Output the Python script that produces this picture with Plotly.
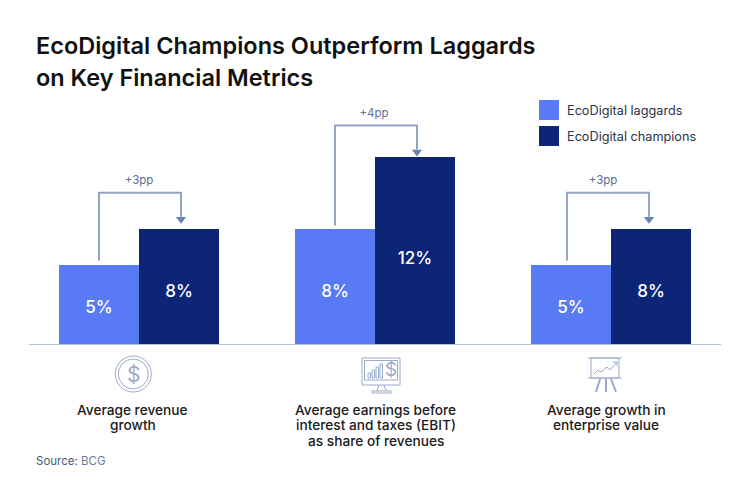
import plotly.graph_objects as go

categories = [["Average revenue", "growth"],
              ["Average earnings before", "interest and taxes (EBIT)", "as share of revenues"],
              ["Average growth in", "enterprise value"]]
laggards_label = ["5%", "8%", "5%"]
champions_label = ["8%", "12%", "8%"]
# bar lengths as drawn in the picture (not strictly proportional to the labels)
laggards_drawn = [5.0, 7.25, 5.0]
champions_drawn = [7.25, 11.75, 7.25]
uplift = ["+3pp", "+4pp", "+3pp"]

W, H = 750, 493
L, R, T, B = 21, 729, 105, 345
UX, UY = 236, 16  # pixels per x / y axis unit
C_LAG, C_CHA = "#587AF5", "#0C2577"
C_CONN = "#92A3C4"; C_ARROW = "#6F84AD"; C_ICON = "#9AAACA"; C_TXT = "#1A1A1A"; C_SUB = "#5E6F92"
FONT = "Inter"
OFF = 40 / UX  # half-group offset in category units

# annotation layout (pixels / axis units per group)
conn_left = [-40, -40, -44]
conn_right = [42, 42, 38]
conn_top = [9.51, 13.72, 9.51]
conn_foot_gap = [0.28, 0.22, 0.28]
up_dx = [0, -1, -8]
lag_ly = [2.25, 3.28, 2.25]
cha_ly = [3.28, 5.33, 3.28]

fig = go.Figure()
x = [0, 1, 2]
fig.add_bar(x=[i - OFF for i in x], y=laggards_drawn, width=2 * OFF, marker_color=C_LAG, marker_line_width=0,
            name="EcoDigital laggards", showlegend=False, hoverinfo="skip")
fig.add_bar(x=[i + OFF for i in x], y=champions_drawn, width=2 * OFF, marker_color=C_CHA, marker_line_width=0,
            name="EcoDigital champions", showlegend=False, hoverinfo="skip")
bar_font = dict(color="white", size=17, family=FONT, weight=500)
fig.add_scatter(x=[i - OFF for i in x], y=lag_ly, mode="text", text=laggards_label,
                textposition="middle center", textfont=bar_font, showlegend=False, hoverinfo="skip")
fig.add_scatter(x=[i + OFF for i in x], y=cha_ly, mode="text", text=champions_label,
                textposition="middle center", textfont=bar_font, showlegend=False, hoverinfo="skip")

for i in x:
    xl, xr = i + conn_left[i] / UX, i + conn_right[i] / UX
    fig.add_scatter(x=[xl, xl, xr, xr],
                    y=[laggards_drawn[i] + conn_foot_gap[i], conn_top[i], conn_top[i], conn_top[i] - 1.5],
                    mode="lines", line=dict(color=C_CONN, width=2), showlegend=False, hoverinfo="skip")
    fig.add_scatter(x=[xr], y=[conn_top[i] - 1.65], mode="markers",
                    marker=dict(symbol="triangle-down", size=9, color=C_ARROW, line_width=0), showlegend=False, hoverinfo="skip")
    fig.add_scatter(x=[i + up_dx[i] / UX], y=[conn_top[i] + 0.35], mode="text", text=[uplift[i]], textposition="top center",
                    textfont=dict(size=11.5, color=C_SUB, family=FONT), showlegend=False, hoverinfo="skip")

def px(v): return (v - L) / (R - L)
def py(v): return (B - v) / (B - T)

def text(xp, yp, s, size, color, anchor="left", weight=400):
    fig.add_annotation(xref="paper", yref="paper", x=px(xp), y=py(yp), text=s, showarrow=False, xanchor=anchor,
                       yanchor="middle", align="center" if anchor == "center" else "left", borderpad=0, borderwidth=0,
                       font=dict(size=size, color=color, family=FONT, weight=weight))

text(36, 45, "EcoDigital Champions Outperform Laggards", 23.5, "#111111", weight=600)
text(36, 77, "on Key Financial Metrics", 23.5, "#111111", weight=600)
text(36, 461, "<span style='color:#47557A'>Source:</span> BCG", 11.5, "#6B7BA0")
text(567, 110, "EcoDigital laggards", 12.7, "#2A3346")
text(567, 136, "EcoDigital champions", 12.7, "#2A3346")

for xc, lines in zip([132.5, 375.5, 606], categories):
    for k, line in enumerate(lines):
        text(xc, 409.5 + 15.7 * k, line, 13.7, C_TXT, anchor="center", weight=500)

shapes = []
def rect(x0, y0, x1, y1, fill=None, line=None, lw=1):
    shapes.append(dict(type="rect", xref="paper", yref="paper", x0=px(x0), x1=px(x1), y0=py(y0), y1=py(y1),
                       fillcolor=fill or "rgba(0,0,0,0)", line=dict(color=line or "rgba(0,0,0,0)", width=lw if line else 0), layer="above"))
def seg(pts, color=C_ICON, lw=1):
    d = "M" + " L".join(f"{px(a):.5f},{py(b):.5f}" for a, b in pts)
    shapes.append(dict(type="path", xref="paper", yref="paper", path=d, line=dict(color=color, width=lw), layer="above"))
def circ(cx, cy, r, color=C_ICON, lw=1):
    shapes.append(dict(type="circle", xref="paper", yref="paper", x0=px(cx - r), x1=px(cx + r), y0=py(cy - r), y1=py(cy + r),
                       line=dict(color=color, width=lw), layer="above"))

rect(539, 100, 559, 120, fill=C_LAG)
rect(539, 126, 559, 146, fill=C_CHA)
seg([(29, 344.5), (721, 344.5)], "#B9C6D8", 1)

# revenue icon
circ(133.3, 374, 18); circ(133.3, 374, 15)
text(133.3, 374, "$", 21, C_ICON, anchor="center")
# monitor icon
rect(362, 358, 400, 385, line=C_ICON)
rect(364.5, 360.5, 397.5, 380, line=C_ICON)
seg([(379, 385), (377, 391)]); seg([(384, 385), (386, 391)])
rect(372, 391, 391, 393, line=C_ICON)
for bx, by in [(368, 373), (372, 370), (376, 367), (380, 364)]:
    rect(bx, by, bx + 2.5, 378, line=C_ICON)
text(391, 369, "$", 19, C_ICON, anchor="center")
# presentation icon
seg([(588, 358), (622, 358)]); seg([(588, 378), (622, 378)])
rect(591, 358, 619, 378, line=C_ICON)
seg([(594, 374), (598, 370), (601, 372), (607, 367), (610, 370), (617, 362)])
seg([(613, 362), (617, 362), (617, 366)])
seg([(600, 379), (596, 392)], lw=2); seg([(606, 379), (606, 392)], lw=2); seg([(611, 379), (616, 392)], lw=2)

fig.update_layout(
    width=W, height=H, autosize=False, barmode="overlay", bargap=0,
    margin=dict(l=L, r=W - R, t=T, b=H - B), plot_bgcolor="white", paper_bgcolor="white",
    xaxis=dict(range=[-0.5, 2.5], visible=False, fixedrange=True),
    yaxis=dict(range=[0, (B - T) / UY], visible=False, fixedrange=True),
    shapes=shapes, showlegend=False,
)
fig.write_html("out.html", post_script="document.body.style.margin='0';", config=dict(displayModeBar=False))
